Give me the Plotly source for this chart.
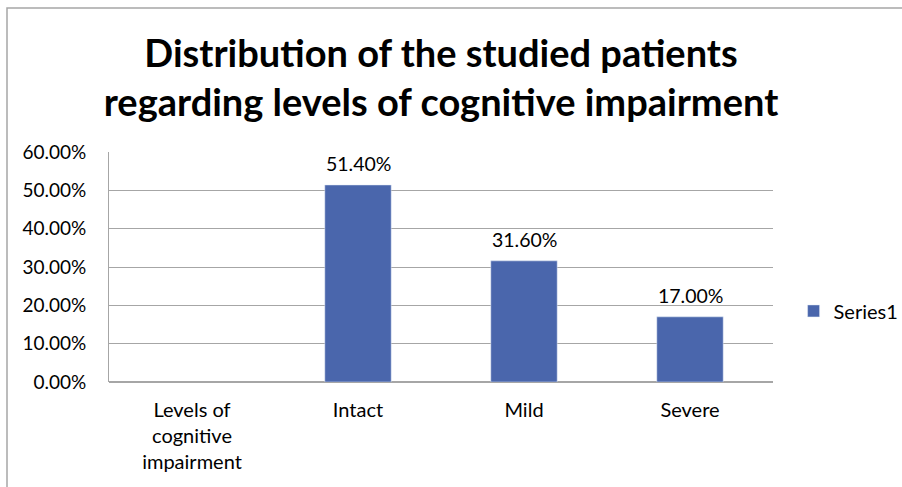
import plotly.graph_objects as go

categories = ["Levels of<br>cognitive<br>impairment", "Intact", "Mild", "Severe"]
values = [None, 0.514, 0.316, 0.17]
value_labels = ["", "51.40%", "31.60%", "17.00%"]
tick_vals = [0, 0.1, 0.2, 0.3, 0.4, 0.5, 0.6]
tick_text = ["0.00%", "10.00%", "20.00%", "30.00%", "40.00%", "50.00%", "60.00%"]
series_name = "Series1"
title = "Distribution of the studied patients<br>regarding levels of cognitive impairment"

FONT = "Lato"
fig = go.Figure()
fig.add_trace(go.Bar(
    x=categories, y=values, name=series_name,
    marker=dict(color="#4a66ac"),
))

for cat, val, lab in zip(categories, values, value_labels):
    if val is None:
        continue
    fig.add_annotation(x=cat, y=val, text=lab, showarrow=False,
                       xanchor="center", yanchor="bottom", yshift=8,
                       font=dict(family=FONT, size=19.5, color="#000000"))

fig.update_layout(
    width=902, height=487,
    margin=dict(l=109, r=129, t=152, b=105, autoexpand=False),
    paper_bgcolor="white", plot_bgcolor="white",
    bargap=0.6,
    showlegend=True,
    title=dict(text="<b>" + title + "</b>", x=0.5, xref="paper", xanchor="center",
               y=0.863, yanchor="middle",
               font=dict(family=FONT, size=38, color="#000000")),
    legend=dict(x=1.031, y=0.309, xanchor="left", yanchor="middle",
                font=dict(family=FONT, size=20, color="#000000"),
                itemwidth=30, bgcolor="rgba(0,0,0,0)"),
    xaxis=dict(tickfont=dict(family=FONT, size=20, color="#000000"),
               showline=False, showgrid=False, ticks="", ticklabelstandoff=14),
    yaxis=dict(range=[0, 0.6], tickvals=tick_vals, ticktext=tick_text,
               tickfont=dict(family=FONT, size=19, color="#000000"),
               showgrid=True, gridcolor="#a6a6a6", gridwidth=1,
               showline=True, linecolor="#a6a6a6", linewidth=1,
               zeroline=True, zerolinecolor="#a6a6a6", ticks="", ticklabelstandoff=18),
    shapes=[dict(type="rect", xref="paper", yref="paper",
                 x0=(7 - 109) / 664, x1=(910 - 109) / 664,
                 y0=(382 - 495) / 230, y1=(382 - 8) / 230,
                 line=dict(color="#a6a6a6", width=1.5), fillcolor="rgba(0,0,0,0)", layer="below")],
)

fig.write_html("out.html", config={"displayModeBar": False},
               post_script="document.body.style.margin='0px';")
